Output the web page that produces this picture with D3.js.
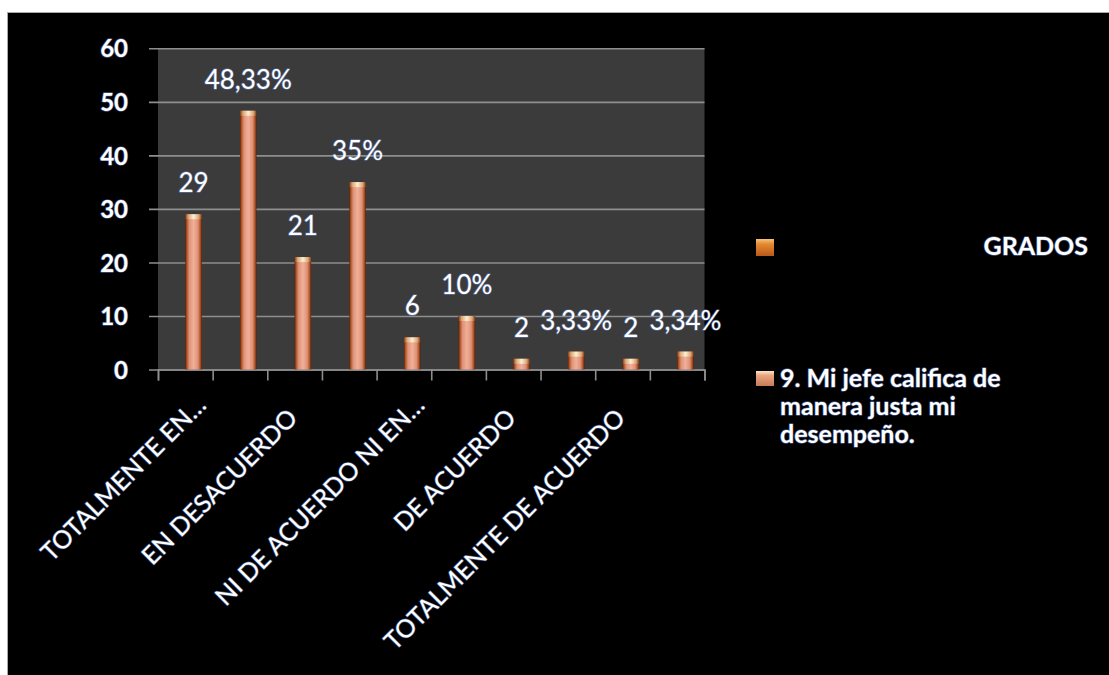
<!DOCTYPE html>
<html>
<head>
<meta charset="utf-8">
<script src="https://cdn.jsdelivr.net/npm/d3@7"></script>
<style>
  html, body { margin: 0; padding: 0; background: #ffffff; }
  svg { display: block; }
  text { font-family: Lato, "Open Sans", "DejaVu Sans", sans-serif; }
  .glow { paint-order: stroke; stroke: rgba(110, 145, 225, 0.55); stroke-width: 1.4px; stroke-linejoin: round; }
</style>
</head>
<body>
<svg id="chart" width="1109" height="675"></svg>
<script>
// Survey answers: each answer has a count and a percentage bar
const categories = [
  "TOTALMENTE EN DESACUERDO",
  "EN DESACUERDO",
  "NI DE ACUERDO NI EN DESACUERDO",
  "DE ACUERDO",
  "TOTALMENTE DE ACUERDO"
];
const categoryLabels = [
  "TOTALMENTE EN…",
  "EN DESACUERDO",
  "NI DE ACUERDO NI EN…",
  "DE ACUERDO",
  "TOTALMENTE DE ACUERDO"
];
const measures = ["n", "%"];
const counts   = [29, 21, 6, 2, 2];
const percents = [48.33, 35, 10, 3.33, 3.34];
const seriesNames = ["GRADOS", "9. Mi jefe califica de manera justa mi desempeño."];
const yTicks = [0, 10, 20, 30, 40, 50, 60];

// one row per bar: count then percentage for every answer
const rows = categories.flatMap((c, i) => measures.map(m => ({
  key: c + "|" + m,
  cat: c,
  label: categoryLabels[i],
  kind: m,
  value: m === "n" ? counts[i] : percents[i]
})));

const svg = d3.select("#chart");
const W = 1109, H = 675;

// frame of the chart object
svg.append("rect")
  .attr("x", 7.5).attr("y", 12.5).attr("width", W).attr("height", H)
  .attr("fill", "#000").attr("stroke", "#a8a8a8").attr("stroke-width", 1);

const plot = { left: 158, right: 704.5, top: 48.3, bottom: 369.5 };

const x = d3.scaleBand().domain(rows.map(d => d.key))
  .range([plot.left, plot.right]).paddingInner(0).paddingOuter(0);
const xInner = d3.scaleBand().domain(seriesNames)
  .range([0, x.bandwidth()]).paddingInner(0).paddingOuter(0.655);
const y = d3.scaleLinear().domain([0, 60]).range([plot.bottom, plot.top]);
const xEdges = d3.scaleLinear().domain([0, rows.length]).range([plot.left, plot.right]);

// gradients
const defs = svg.append("defs");
const body = defs.append("linearGradient").attr("id", "barBody")
  .attr("x1", "0%").attr("x2", "100%").attr("y1", "0%").attr("y2", "0%");
[["0%", "#5a2208"], ["9%", "#ad5226"], ["24%", "#df9276"], ["50%", "#f0b09a"],
 ["76%", "#df9276"], ["91%", "#ad5226"], ["100%", "#5a2208"]]
  .forEach(([o, c]) => body.append("stop").attr("offset", o).attr("stop-color", c));
const cap = defs.append("linearGradient").attr("id", "barCap")
  .attr("x1", "0%").attr("x2", "100%").attr("y1", "0%").attr("y2", "0%");
[["0%", "#7a3a14"], ["18%", "#dca474"], ["50%", "#fcf0d4"], ["82%", "#dca474"], ["100%", "#7a3a14"]]
  .forEach(([o, c]) => cap.append("stop").attr("offset", o).attr("stop-color", c));
const lg0 = defs.append("linearGradient").attr("id", "legendGrados")
  .attr("x1", "0%").attr("x2", "0%").attr("y1", "0%").attr("y2", "100%");
[["0%", "#f6c27a"], ["30%", "#e48a30"], ["100%", "#b8581a"]]
  .forEach(([o, c]) => lg0.append("stop").attr("offset", o).attr("stop-color", c));
const lg1 = defs.append("linearGradient").attr("id", "legendItem")
  .attr("x1", "0%").attr("x2", "0%").attr("y1", "0%").attr("y2", "100%");
[["0%", "#fbe6c8"], ["30%", "#e8a480"], ["100%", "#c87a58"]]
  .forEach(([o, c]) => lg1.append("stop").attr("offset", o).attr("stop-color", c));

// plot area
svg.append("rect")
  .attr("x", plot.left).attr("y", plot.top)
  .attr("width", plot.right - plot.left).attr("height", plot.bottom - plot.top)
  .attr("fill", "#3b3b3b");

// gridlines with outside tick marks
const grid = svg.append("g")
  .attr("transform", `translate(${plot.right},0)`)
  .call(d3.axisLeft(y).tickValues(yTicks).tickFormat("")
    .tickSize(plot.right - plot.left + 9));
grid.select(".domain").remove();
grid.selectAll(".tick line").attr("stroke", "#8e8e8e").attr("stroke-width", 1.6);

// y tick labels
const yAxis = svg.append("g")
  .attr("transform", `translate(${plot.left},0)`)
  .call(d3.axisLeft(y).tickValues(yTicks).tickSize(0).tickPadding(30));
yAxis.select(".domain").remove();
yAxis.selectAll("text")
  .attr("class", "glow")
  .attr("fill", "#ffffff")
  .style("font-size", "24px").style("font-weight", "700")
  .attr("dy", "0.36em");

// x axis line and band-edge ticks
const xTicks = svg.append("g")
  .attr("transform", `translate(0,${plot.bottom})`)
  .call(d3.axisBottom(xEdges).ticks(rows.length).tickFormat("").tickSize(11));
xTicks.select(".domain").attr("stroke", "#8e8e8e").attr("stroke-width", 1.6);
xTicks.selectAll(".tick line").attr("stroke", "#8e8e8e").attr("stroke-width", 1.6);

// category labels, one per answer
const labelByKey = new Map(rows.map(d => [d.key, d.kind === "n" ? d.label : ""]));
const xAxis = svg.append("g")
  .attr("transform", `translate(0,${plot.bottom})`)
  .call(d3.axisBottom(x).tickSize(0).tickFormat(k => labelByKey.get(k)));
xAxis.select(".domain").remove();
xAxis.selectAll("text")
  .attr("fill", "#ffffff")
  .attr("class", "glow")
  .style("font-size", "25px").style("font-weight", "400")
  .attr("text-anchor", "end")
  .attr("y", 0).attr("dy", "0.35em")
  .attr("transform", function (k) {
    const t = labelByKey.get(k) || "";
    return t.endsWith("…")
      ? "translate(16,31) rotate(-45)"
      : "translate(-2,44) rotate(-45)";
  });

// bars
const series = seriesNames[1];
const bars = svg.append("g");
bars.selectAll("rect.body").data(rows).join("rect")
  .attr("class", "body")
  .attr("x", d => x(d.key) + xInner(series))
  .attr("width", xInner.bandwidth())
  .attr("y", d => y(d.value))
  .attr("height", d => y(0) - y(d.value))
  .attr("fill", "url(#barBody)");
bars.selectAll("rect.cap").data(rows).join("rect")
  .attr("class", "cap")
  .attr("x", d => x(d.key) + xInner(series))
  .attr("width", xInner.bandwidth())
  .attr("y", d => y(d.value))
  .attr("height", d => Math.min(5, y(0) - y(d.value)))
  .attr("fill", "url(#barCap)");

// value labels
const fmtPct = v => String(v).replace(".", ",") + "%";
svg.append("g").selectAll("text").data(rows).join("text")
  .attr("class", "glow")
  .attr("x", d => x(d.key) + xInner(series) + xInner.bandwidth() / 2)
  .attr("y", d => y(d.value) - 22)
  .attr("text-anchor", "middle")
  .attr("fill", "#ffffff")
  .style("font-size", "26px")
  .text(d => d.kind === "n" ? String(d.value) : fmtPct(d.value));

// legend
const legend = svg.append("g");
legend.append("rect").attr("x", 756).attr("y", 239).attr("width", 18).attr("height", 17)
  .attr("fill", "url(#legendGrados)");
legend.append("text").attr("class", "glow")
  .attr("x", 1088).attr("y", 246).attr("dy", "0.36em")
  .attr("text-anchor", "end").attr("fill", "#fff")
  .style("font-size", "25px").style("font-weight", "700")
  .text(seriesNames[0]);

legend.append("rect").attr("x", 756).attr("y", 371).attr("width", 18).attr("height", 15)
  .attr("fill", "url(#legendItem)");
const item = legend.append("text").attr("class", "glow")
  .attr("x", 780).attr("y", 387).attr("fill", "#fff")
  .style("font-size", "25px").style("font-weight", "700");
// wrap the long series name into lines
(function wrap(textSel, words, maxW, lineH) {
  let line = [];
  let tspan = textSel.append("tspan").attr("x", 780).attr("dy", 0);
  words.forEach(w => {
    line.push(w);
    tspan.text(line.join(" "));
    if (tspan.node().getComputedTextLength() > maxW && line.length > 1) {
      line.pop();
      tspan.text(line.join(" "));
      line = [w];
      tspan = textSel.append("tspan").attr("x", 780).attr("dy", lineH).text(w);
    }
  });
})(item, seriesNames[1].split(" "), 280, 28);
</script>
</body>
</html>
